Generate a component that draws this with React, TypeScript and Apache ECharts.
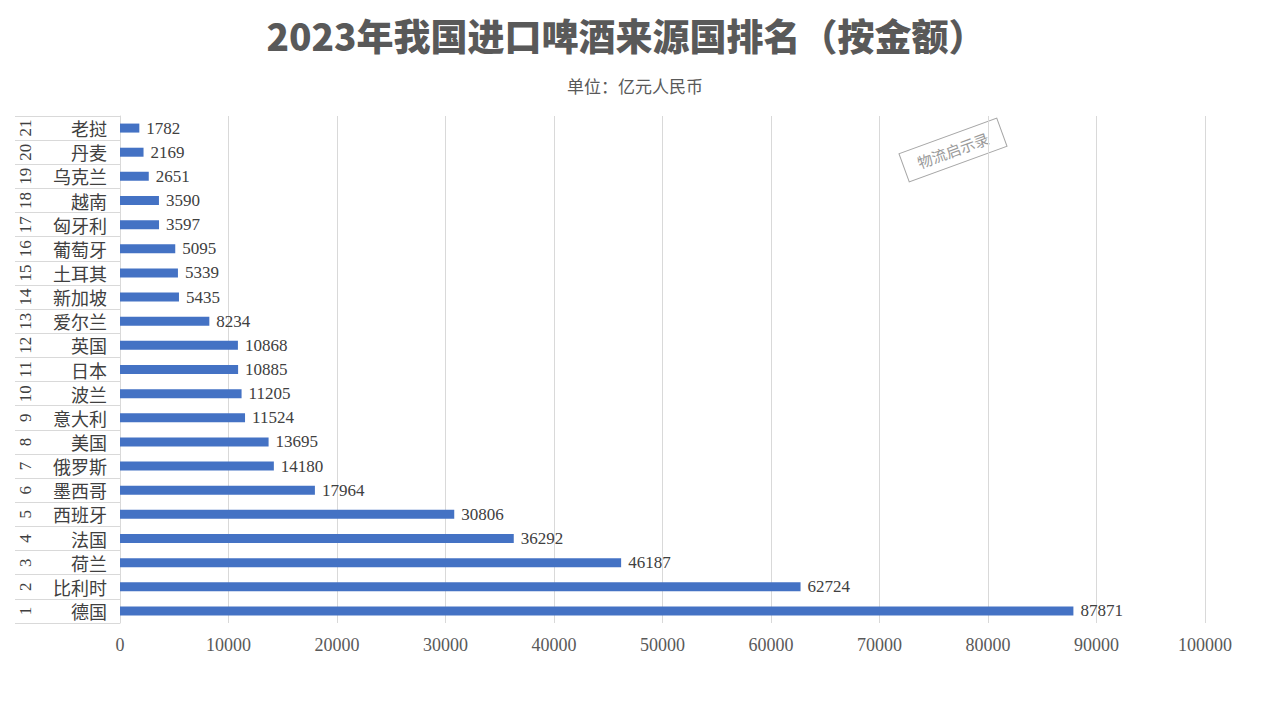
import React, { useEffect, useRef } from "react";
import * as echarts from "echarts";

const ranks: string[] = ["1","2","3","4","5","6","7","8","9","10","11","12","13","14","15","16","17","18","19","20","21"];
const countries: string[] = ["德国","比利时","荷兰","法国","西班牙","墨西哥","俄罗斯","美国","意大利","波兰","日本","英国","爱尔兰","新加坡","土耳其","葡萄牙","匈牙利","越南","乌克兰","丹麦","老挝"];
const values: number[] = [87871,62724,46187,36292,30806,17964,14180,13695,11524,11205,10885,10868,8234,5435,5339,5095,3597,3590,2651,2169,1782];
const xMin = 0;
const xMax = 100000;
const xStep = 10000;

const titleText = "2023年我国进口啤酒来源国排名（按金额）";
const subtitleText = "单位：亿元人民币";
const watermarkText = "物流启示录";

const SERIF = "'Liberation Serif', 'Noto Sans CJK SC', serif";
const CJK = "'Noto Sans CJK SC', sans-serif";

export default function App() {
  const ref = useRef<HTMLDivElement>(null);
  useEffect(() => {
    if (!ref.current) return;
    const chart = echarts.init(ref.current, null, { renderer: "svg" });
    chart.setOption({
      animation: false,
      backgroundColor: "#ffffff",
      title: [
        {
          text: titleText,
          left: 621,
          textAlign: "center",
          top: 11,
          textStyle: { fontSize: 37, fontWeight: 900, color: "#595959", fontFamily: CJK },
        },
        {
          text: subtitleText,
          left: 630,
          textAlign: "center",
          top: 72,
          textStyle: { fontSize: 17, fontWeight: "normal", color: "#595959", fontFamily: CJK },
        },
      ],
      grid: { left: 120, right: 75, top: 116, bottom: 95, containLabel: false },
      xAxis: {
        type: "value",
        min: xMin,
        max: xMax,
        interval: xStep,
        axisLine: { show: false },
        axisTick: { show: false },
        splitLine: { show: true, lineStyle: { color: "#d9d9d9", width: 1 } },
        axisLabel: {
          color: "#595959",
          fontSize: 18,
          fontFamily: SERIF,
          margin: 13,
          formatter: (v: number) => String(v),
        },
      },
      yAxis: [
        {
          type: "category",
          data: countries,
          position: "left",
          axisLine: { show: true, lineStyle: { color: "#d9d9d9", width: 1 } },
          axisTick: { show: true, length: 105, interval: 0, lineStyle: { color: "#d9d9d9", width: 1 } },
          axisLabel: { color: "#404040", fontSize: 18, fontFamily: CJK, margin: 13, interval: 0 },
        },
        {
          type: "category",
          data: ranks,
          position: "left",
          offset: 80,
          axisLine: { show: false },
          axisTick: { show: false },
          axisLabel: { color: "#404040", fontSize: 17, fontFamily: SERIF, margin: 6, rotate: 90, interval: 0 },
        },
      ],
      series: [
        {
          type: "bar",
          data: values,
          yAxisIndex: 0,
          barWidth: 9,
          itemStyle: { color: "#4472c4" },
          label: {
            show: true,
            position: "right",
            distance: 7,
            color: "#404040",
            fontSize: 17,
            fontFamily: SERIF,
          },
        },
      ],
      graphic: [
        {
          type: "group",
          x: 953,
          y: 150,
          rotation: (20 * Math.PI) / 180,
          children: [
            {
              type: "rect",
              shape: { x: -52, y: -15, width: 104, height: 30 },
              style: { fill: "rgba(255,255,255,0.6)", stroke: "#a6a6a6", lineWidth: 1 },
            },
            {
              type: "text",
              x: 0,
              y: 0,
              style: {
                text: watermarkText,
                fontSize: 15,
                fill: "#9a9a9a",
                fontFamily: CJK,
                align: "center",
                verticalAlign: "middle",
              },
            },
          ],
        },
      ],
    });
    return () => chart.dispose();
  }, []);
  return (
    <div
      ref={ref}
      style={{ position: "fixed", left: 0, top: 0, width: 1280, height: 718, background: "#fff" }}
    />
  );
}
